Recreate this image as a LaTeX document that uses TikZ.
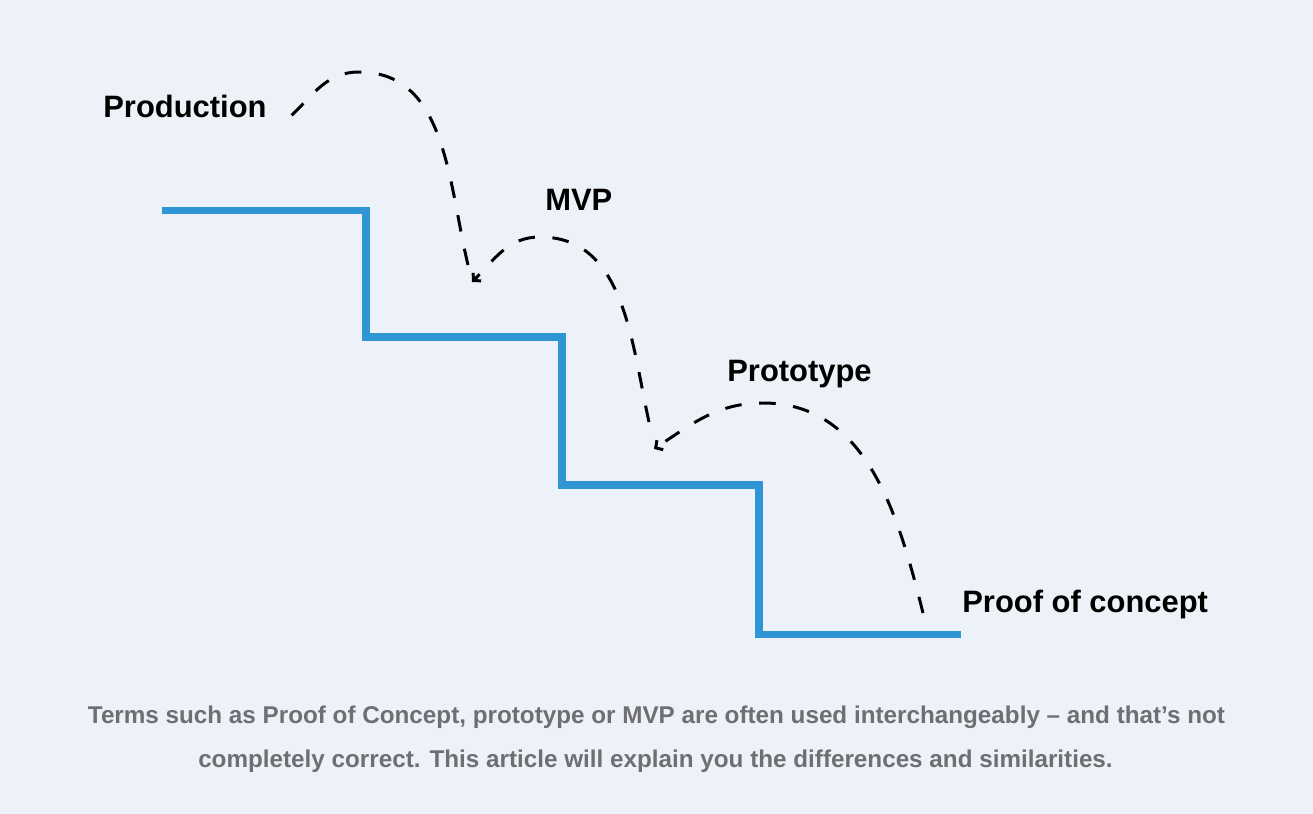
\documentclass[tikz,border=0pt]{standalone}
\usepackage{fontspec}
\setmainfont{Liberation Sans}
\usetikzlibrary{arrows.meta}
\definecolor{stairblue}{HTML}{3095D4}
\definecolor{pagebg}{HTML}{EDF1F8}
\definecolor{captiongray}{HTML}{6F6F73}

\begin{document}
\begin{tikzpicture}[x=0.02cm,y=-0.02cm,
  stage/.style={anchor=base west,inner sep=0pt,font=\fontsize{17.6}{21}\selectfont\bfseries},
  stair/.style={stairblue,line width=4.1pt,line join=miter},
  jump/.style={black,line width=1.7pt,dash pattern=on 9.5pt off 10pt},
  jumparr/.style={jump,-{Straight Barb[length=3pt,width=6.5pt]}},
  caption/.style={anchor=base,inner sep=0pt,text=captiongray,font=\fontsize{13.8}{16}\selectfont\bfseries}
]
\fill[pagebg] (0,0) rectangle (1313,814);
\useasboundingbox (0,0) rectangle (1313,814);

% stage labels
\node[stage] (prod) at (103,118) {Production};
\node[stage] (mvp) at (545,211) {MVP};
\node[stage] (proto) at (727,382) {Prototype};
\node[stage] (poc) at (962,612) {Proof of concept};

% the stairs
\draw[stair] (162,210.5) -| (366,337) -| (562,485) -| (759,634.5) -- (961,634.5);

% jump ends
\coordinate (j1s) at (923,613);
\coordinate (j1e) at (654,449);
\coordinate (j2s) at (649,422);
\coordinate (j2e) at (472,282);
\coordinate (j3s) at (468,265);
\coordinate (j3e) at (291,116);

\draw[jumparr] (j1s) .. controls (898,513) and (866,403) .. (763,403)
  .. controls (718,403) and (693,423) .. (j1e);
\draw[jumparr] (j2s) .. controls (631,340) and (624,237) .. (540,237)
  .. controls (508,237) and (495,259) .. (j2e);
\draw[jump] (j3s) .. controls (448,181) and (446,72) .. (359,72)
  .. controls (327,72) and (314,94) .. (j3e);

% caption
\node[caption] (cap1) at (656.5,723) {Terms such as Proof of Concept, prototype or MVP are often used interchangeably – and that’s not};
\node[caption] (cap2) at (655.5,767) {completely correct. This article will explain you the differences and similarities.};
\end{tikzpicture}
\end{document}
